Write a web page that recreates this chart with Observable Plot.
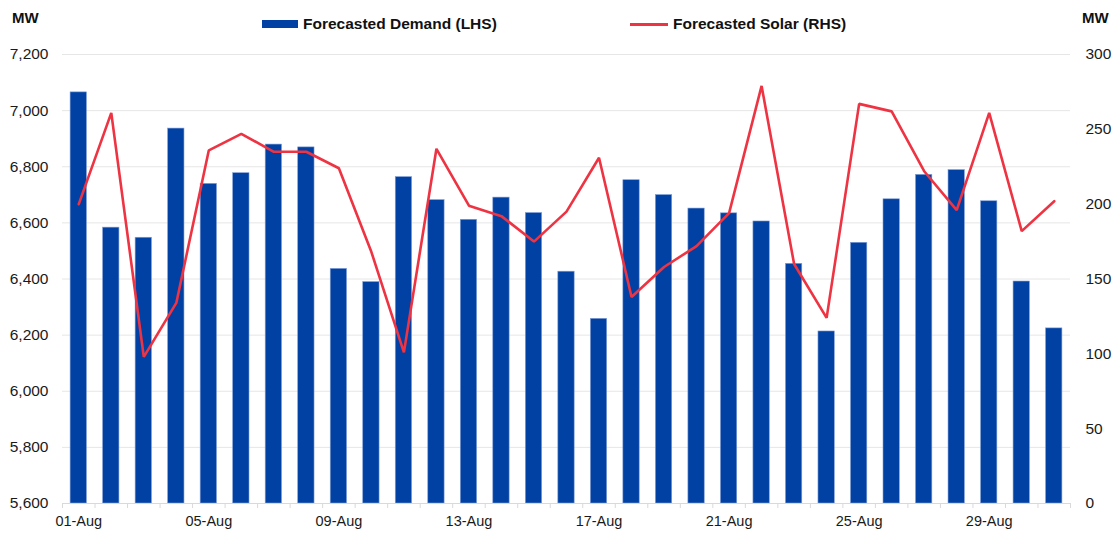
<!DOCTYPE html>
<html><head><meta charset="utf-8">
<script src="https://cdn.jsdelivr.net/npm/d3@7"></script>
<script src="https://cdn.jsdelivr.net/npm/@observablehq/plot@0.6"></script>
<style>
body{margin:0;background:#fff;font-family:"Liberation Sans",Arial,sans-serif;}
#wrap{position:relative;width:1116px;height:535px;overflow:hidden;}
#head{position:relative;height:40px;width:1116px;}
.mw{position:absolute;top:9px;font-weight:bold;font-size:15px;color:#111;}
.leg{position:absolute;top:15px;font-weight:bold;font-size:15.5px;color:#111;line-height:17px;}
.sw{position:absolute;}
</style></head>
<body>
<div id="wrap">
  <div id="head">
    <div class="mw" style="left:12px">MW</div>
    <div class="mw" style="left:1082px">MW</div>
    <div class="sw" style="left:262px;top:20px;width:36px;height:8px;background:#0041a3"></div>
    <div class="leg" style="left:303px">Forecasted Demand (LHS)</div>
    <div class="sw" style="left:630px;top:22.5px;width:38px;height:3px;background:#ee3342"></div>
    <div class="leg" style="left:673px">Forecasted Solar (RHS)</div>
  </div>
  <div id="chart"></div>
</div>
<script>
const dates = ["01-Aug","02-Aug","03-Aug","04-Aug","05-Aug","06-Aug","07-Aug","08-Aug","09-Aug","10-Aug",
  "11-Aug","12-Aug","13-Aug","14-Aug","15-Aug","16-Aug","17-Aug","18-Aug","19-Aug","20-Aug",
  "21-Aug","22-Aug","23-Aug","24-Aug","25-Aug","26-Aug","27-Aug","28-Aug","29-Aug","30-Aug","31-Aug"];
const demand = [7065,6583,6547,6936,6739,6777,6879,6869,6436,6389,
  6763,6681,6611,6690,6635,6426,6258,6752,6699,6651,
  6634,6605,6454,6213,6529,6684,6771,6788,6677,6391,6224];
const solar = [200,261,98,134,236,247,235,235,224,168,
  101,237,199,192,175,195,231,138,158,172,
  194,279,160,124,267,262,222,196,261,182,202];
const leftTicks = [5600,5800,6000,6200,6400,6600,6800,7000,7200];
const rightTicks = [0,50,100,150,200,250,300];
const xLabels = ["01-Aug","05-Aug","09-Aug","13-Aug","17-Aug","21-Aug","25-Aug","29-Aug"];

const blue = "#0041a3", red = "#ee3342";
const yMin = 5600, yMax = 7200, sMax = 300;
const toY = s => yMin + s * (yMax - yMin) / sMax;
const fromY = v => (v - yMin) * sMax / (yMax - yMin);

const data = dates.map((d, i) => ({day: i + 1, date: d, demand: demand[i], solar: solar[i]}));
const boundaries = d3.range(1, dates.length + 2);
const labelPos = xLabels.map(l => dates.indexOf(l) + 1.5);

const chart = Plot.plot({
  width: 1116,
  height: 495,
  marginLeft: 62,
  marginRight: 46,
  marginTop: 14,
  marginBottom: 32,
  style: {fontFamily: "'Liberation Sans', Arial, sans-serif", fontSize: "15px", color: "#1a1a1a", background: "#fff"},
  x: {domain: [1, dates.length + 1], label: null},
  y: {domain: [yMin, yMax], label: null},
  marks: [
    Plot.ruleY(leftTicks.slice(1), {stroke: "#e6e6e6", strokeWidth: 1}),
    Plot.rectY(data, {x: "day", y1: yMin, y2: "demand", interval: 1, insetLeft: 8.1, insetRight: 8.1,
      fill: blue, stroke: "#7f9dd6", strokeWidth: 0.6}),
    Plot.ruleY([yMin], {stroke: "#d9d9d9", strokeWidth: 1}),
    Plot.axisX(boundaries, {tickSize: 5, tickFormat: () => "", stroke: "#d9d9d9", label: null}),
    Plot.axisX(labelPos, {tickSize: 0, tickPadding: 12, tickFormat: v => dates[Math.round(v - 1.5)], fontSize: 14.5, label: null}),
    Plot.axisY(leftTicks, {anchor: "left", tickSize: 0, tickPadding: 14, tickFormat: d3.format(","), label: null, fontSize: 15.5}),
    Plot.axisY(rightTicks.map(toY), {anchor: "right", tickSize: 0, tickPadding: 15, tickFormat: v => d3.format(",")(Math.round(fromY(v))), label: null, fontSize: 15.5}),
    Plot.line(data, {x: d => d.day + 0.5, y: d => toY(d.solar), stroke: red, strokeWidth: 2.6, strokeLinejoin: "miter"})
  ]
});
document.getElementById("chart").appendChild(chart);
</script>
</body></html>
